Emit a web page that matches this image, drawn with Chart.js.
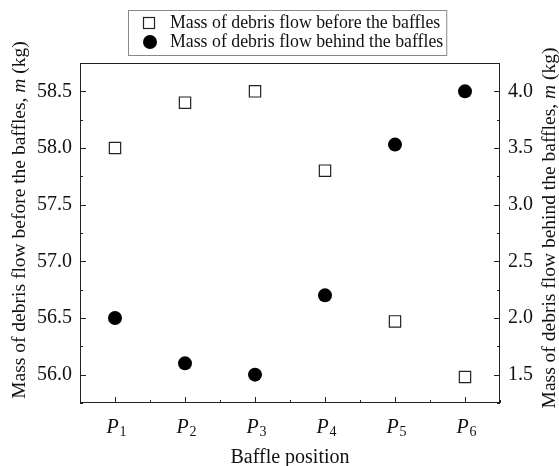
<!DOCTYPE html>
<html>
<head>
<meta charset="utf-8">
<script src="https://cdn.jsdelivr.net/npm/chart.js@4.4.0/dist/chart.umd.min.js"></script>
<style>
  body { margin: 0; background: #fff; }
  #wrap { width: 559px; height: 466px; }
</style>
</head>
<body>
<div id="wrap"><canvas id="massChart"></canvas></div>
<script>
// baffle positions P1..P6 and measured masses (kg)
const positions = ["P1", "P2", "P3", "P4", "P5", "P6"];
const massBefore = [58.0, 58.4, 58.5, 57.8, 56.47, 55.98];
const massBehind = [2.0, 1.6, 1.5, 2.2, 3.53, 4.0];

// axis ranges
const xRange = [0.5, 6.5];
const leftRange = [55.75, 58.75];
const rightRange = [1.25, 4.25];

const labelBefore = "Mass of debris flow before the baffles";
const labelBehind = "Mass of debris flow behind the baffles";

const SERIF = '"Liberation Serif", "Times New Roman", serif';
const INK = "#111";

function isMajor(value, step) {
    const r = value / step;
    return Math.abs(r - Math.round(r)) < 1e-6;
}

function majorLabel(value) {
    return isMajor(value, 0.5) ? value.toFixed(1) : "";
}

// frame around the plot and inward tick marks
const framePlugin = {
    id: "frame",
    beforeDatasetsDraw(chart) {
        const { ctx, chartArea: a, scales } = chart;
        ctx.save();
        ctx.strokeStyle = "#222";
        ctx.lineWidth = 1;
        ctx.strokeRect(a.left + 0.5, a.top + 0.5, a.right - a.left - 1, a.bottom - a.top - 1);

        ctx.beginPath();
        scales.y.ticks.forEach(t => {
            const py = Math.round(scales.y.getPixelForValue(t.value)) + 0.5;
            const len = isMajor(t.value, 0.5) ? 6 : 3;
            ctx.moveTo(a.left, py);
            ctx.lineTo(a.left + len, py);
        });
        scales.y2.ticks.forEach(t => {
            const py = Math.round(scales.y2.getPixelForValue(t.value)) + 0.5;
            const len = isMajor(t.value, 0.5) ? 6 : 3;
            ctx.moveTo(a.right, py);
            ctx.lineTo(a.right - len, py);
        });
        scales.x.ticks.forEach(t => {
            const px = Math.round(scales.x.getPixelForValue(t.value)) + 0.5;
            const len = isMajor(t.value, 1) ? 6 : 3;
            ctx.moveTo(px, a.bottom);
            ctx.lineTo(px, a.bottom - len);
        });
        ctx.stroke();
        ctx.restore();
    }
};

// draws a run of [text, font] pieces starting at x
function drawPieces(ctx, pieces, x, y) {
    pieces.forEach(([txt, font]) => {
        ctx.font = font;
        ctx.fillText(txt, x, y);
        x += ctx.measureText(txt).width;
    });
}

function piecesWidth(ctx, pieces) {
    let w = 0;
    pieces.forEach(([txt, font]) => {
        ctx.font = font;
        w += ctx.measureText(txt).width;
    });
    return w;
}

function drawVerticalTitle(ctx, pieces, cx, cy) {
    ctx.save();
    ctx.translate(cx, cy);
    ctx.rotate(-Math.PI / 2);
    ctx.textBaseline = "middle";
    ctx.textAlign = "left";
    const w = piecesWidth(ctx, pieces);
    drawPieces(ctx, pieces, -w / 2, 0);
    ctx.restore();
}

// x tick labels with subscripts, axis titles and the legend
const textPlugin = {
    id: "texts",
    afterDraw(chart) {
        const { ctx, chartArea: a, scales } = chart;
        ctx.save();
        ctx.fillStyle = INK;
        ctx.textAlign = "left";
        ctx.textBaseline = "alphabetic";

        const fontP = "italic 20px " + SERIF;
        const fontSub = "14px " + SERIF;
        positions.forEach((p, i) => {
            const px = scales.x.getPixelForValue(i + 1);
            const pieces = [[p.charAt(0), fontP], [p.slice(1), fontSub]];
            ctx.font = fontP;
            const wP = ctx.measureText(p.charAt(0)).width;
            ctx.font = fontSub;
            const wS = ctx.measureText(p.slice(1)).width;
            const x0 = px - (wP + wS) / 2 + 1;
            ctx.font = fontP;
            ctx.fillText(p.charAt(0), x0, 433);
            ctx.font = fontSub;
            ctx.fillText(p.slice(1), x0 + wP + 1, 436);
        });

        ctx.font = "20px " + SERIF;
        ctx.textAlign = "center";
        ctx.fillText("Baffle position", (a.left + a.right) / 2, 463);
        ctx.textAlign = "left";

        const fontT = "19.5px " + SERIF;
        const fontTi = "italic 19.5px " + SERIF;
        drawVerticalTitle(ctx, [[labelBefore + ", ", fontT], ["m", fontTi], [" (kg)", fontT]], 20, 220);
        drawVerticalTitle(ctx, [[labelBehind + ", ", fontT], ["m", fontTi], [" (kg)", fontT]], 550, 228);

        // legend
        const ds = chart.data.datasets;
        ctx.font = "17.8px " + SERIF;
        const textX = 170;
        const wText = Math.max(ctx.measureText(ds[0].label).width, ctx.measureText(ds[1].label).width);
        ctx.strokeStyle = "#888";
        ctx.lineWidth = 1;
        ctx.strokeRect(128.5, 10.5, textX + wText + 3 - 128, 45);

        ctx.fillStyle = ds[0].backgroundColor;
        ctx.strokeStyle = ds[0].borderColor;
        ctx.lineWidth = 1.2;
        ctx.fillRect(143.5, 17.5, 11, 11);
        ctx.strokeRect(143.5, 17.5, 11, 11);

        ctx.fillStyle = ds[1].backgroundColor;
        ctx.beginPath();
        ctx.arc(150, 42, 7, 0, Math.PI * 2);
        ctx.fill();

        ctx.fillStyle = INK;
        ctx.textBaseline = "middle";
        ctx.fillText(ds[0].label, textX, 23);
        ctx.fillText(ds[1].label, textX, 42);
        ctx.restore();
    }
};

const ctxMass = document.getElementById("massChart").getContext("2d");

const massChart = new Chart(ctxMass, {
    type: "scatter",
    data: {
        datasets: [
            {
                label: labelBefore,
                data: positions.map((p, i) => ({ x: i + 1, y: massBefore[i] })),
                yAxisID: "y",
                pointStyle: "rect",
                pointRadius: 8,
                pointHoverRadius: 8,
                backgroundColor: "#fff",
                borderColor: "#222",
                borderWidth: 1.2
            },
            {
                label: labelBehind,
                data: positions.map((p, i) => ({ x: i + 1, y: massBehind[i] })),
                yAxisID: "y2",
                pointStyle: "circle",
                pointRadius: 7,
                pointHoverRadius: 7,
                backgroundColor: "#000",
                borderColor: "#000",
                borderWidth: 0
            }
        ]
    },
    options: {
        responsive: true,
        maintainAspectRatio: false,
        animation: false,
        layout: { padding: { top: 63, left: 0, right: 0, bottom: 0 } },
        plugins: {
            legend: { display: false },
            tooltip: { enabled: false }
        },
        scales: {
            x: {
                type: "linear",
                min: xRange[0],
                max: xRange[1],
                ticks: { display: false, stepSize: 0.5 },
                grid: { display: false, drawTicks: false },
                border: { display: false },
                afterFit: s => { s.height = 63; }
            },
            y: {
                type: "linear",
                position: "left",
                min: leftRange[0],
                max: leftRange[1],
                ticks: {
                    stepSize: 0.25,
                    autoSkip: false,
                    padding: 8,
                    color: INK,
                    font: { family: SERIF, size: 20 },
                    callback: majorLabel
                },
                grid: { display: false, drawTicks: false },
                border: { display: false },
                afterFit: s => { s.width = 80; }
            },
            y2: {
                type: "linear",
                position: "right",
                min: rightRange[0],
                max: rightRange[1],
                ticks: {
                    stepSize: 0.25,
                    autoSkip: false,
                    padding: 8,
                    color: INK,
                    font: { family: SERIF, size: 20 },
                    callback: majorLabel
                },
                grid: { display: false, drawTicks: false },
                border: { display: false },
                afterFit: s => { s.width = 59; }
            }
        }
    },
    plugins: [framePlugin, textPlugin]
});
</script>
</body>
</html>
